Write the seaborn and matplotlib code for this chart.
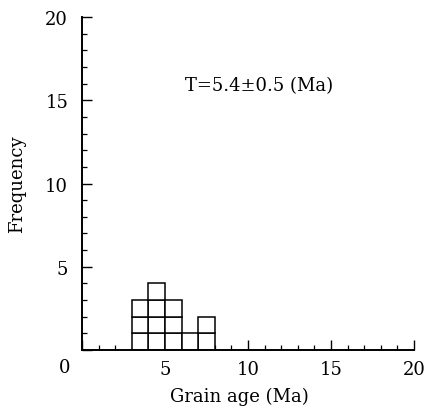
import numpy as np
import pandas as pd
import matplotlib
matplotlib.use("Agg")
import matplotlib.pyplot as plt
from matplotlib.ticker import MultipleLocator, FuncFormatter
import seaborn as sns

# Grain-age histogram: one unit square per grain, bins 1 Ma wide
bin_left = [3, 4, 5, 6, 7]
counts = [3, 4, 3, 1, 2]
age_label = "T=5.4\u00b10.5 (Ma)"
x_title = "Grain age (Ma)"
y_title = "Frequency"

rows = [(left + 0.5, k) for left, c in zip(bin_left, counts) for k in range(c)]
grains = pd.DataFrame(rows, columns=["age", "level"])

sns.set_style("ticks")
plt.rcParams["font.family"] = ["DejaVu Serif"]
plt.rcParams["mathtext.fontset"] = "dejavuserif"
for key in ("text.color", "axes.labelcolor", "xtick.color", "ytick.color",
            "axes.edgecolor"):
    plt.rcParams[key] = "black"

FS = 13

fig = plt.figure(figsize=(4.25, 4.14), dpi=100)
ax = fig.add_axes([0.193, 0.152, 0.781, 0.8045])

n_levels = grains["level"].nunique()
sns.histplot(
    data=grains, x="age", hue="level", multiple="stack",
    binwidth=1, binrange=(3, 8),
    palette=["white"] * n_levels, edgecolor="black", linewidth=1.1,
    alpha=1, legend=False, ax=ax,
)

ax.set_xlim(0, 20)
ax.set_ylim(0, 20)
for axis in (ax.xaxis, ax.yaxis):
    axis.set_major_locator(MultipleLocator(5))
    axis.set_minor_locator(MultipleLocator(1))
    axis.set_major_formatter(FuncFormatter(lambda v, p: "" if v == 0 else f"{v:.0f}"))

sns.despine(ax=ax)
for s in ("left", "bottom"):
    ax.spines[s].set_linewidth(1.4)
    ax.spines[s].set_color("black")

ax.tick_params(which="major", direction="in", length=7, width=1.0, colors="black",
               labelsize=FS)
ax.tick_params(which="minor", direction="in", length=3.5, width=0.9, colors="black")
ax.tick_params(axis="x", which="major", pad=7)
ax.tick_params(axis="y", which="major", pad=10)

ax.annotate("0", xy=(0, 0), xytext=(-12.2, -12.2), textcoords="offset points",
            ha="center", va="center", fontsize=FS, color="black")

ax.set_xlabel(x_title, fontsize=FS, labelpad=8, color="black")
ax.xaxis.set_label_coords(0.475, -0.11)
ax.set_ylabel(y_title, fontsize=FS, labelpad=14, color="black")

ax.text(6.2, 15.9, age_label, ha="left", va="center", fontsize=FS, color="black")

fig.savefig("out.png", dpi=100)
